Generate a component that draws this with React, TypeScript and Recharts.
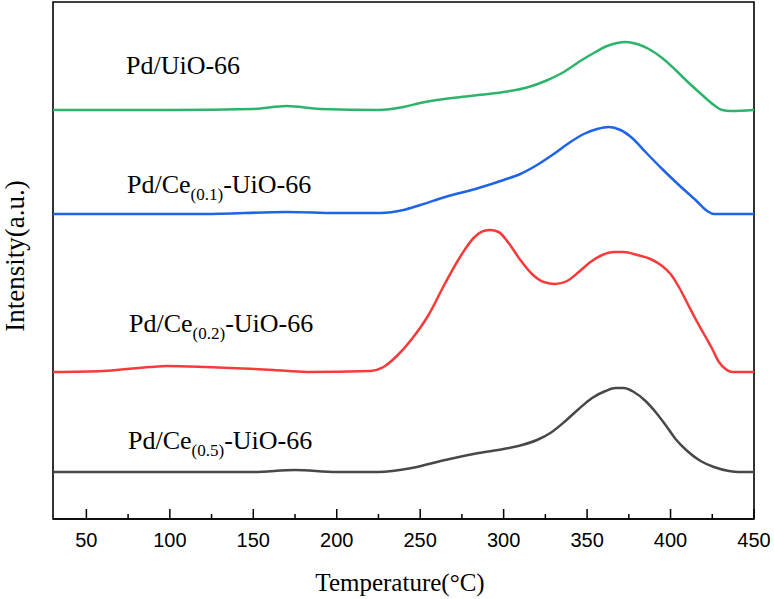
import { LineChart, Line, XAxis, YAxis, ReferenceArea } from 'recharts';

// temperature (°C) / intensity (a.u., offset stacked) per sample
const uioTemps = [30, 100, 150, 170, 190, 225, 240, 250, 260, 280, 300, 315, 325, 335, 345, 355, 362, 368, 373, 380, 387, 395, 403, 411, 419, 426, 431, 436, 450];
const uioValues = [409, 409, 410, 413, 410, 409, 412, 416, 419, 423, 427, 432, 438, 446, 457, 467, 473, 476, 477, 475, 470, 461, 449, 436, 424, 414, 409, 408, 409];

const ce01Temps = [30, 120, 170, 200, 226, 240, 250, 265, 285, 300, 310, 320, 330, 340, 348, 356, 363, 370, 377, 385, 395, 405, 415, 422, 426, 450];
const ce01Values = [305, 305, 307, 306, 306, 309, 314, 322, 331, 339, 345, 354, 365, 377, 385, 390, 392, 389, 381, 367, 350, 334, 319, 308, 305, 305];

const ce02Temps = [30, 60, 88, 98, 122, 162, 182, 220, 228, 236, 245, 255, 265, 275, 282, 288, 292, 297, 303, 310, 317, 324, 331, 338, 345, 352, 359, 366, 372, 380, 388, 395, 400, 405, 410, 415, 420, 425, 429, 433, 437, 450];
const ce02Values = [147, 148, 152, 153, 152, 149, 147, 148, 152, 163, 180, 204, 236, 265, 281, 288, 289, 287, 276, 259, 245, 237, 235, 238, 247, 257, 264, 267, 267, 264, 260, 253, 245, 232, 216, 200, 185, 170, 157, 150, 147, 147];

const ce05Temps = [30, 150, 175, 200, 225, 245, 265, 285, 300, 311, 320, 328, 337, 345, 353, 361, 367, 372, 378, 385, 391, 397, 403, 410, 418, 426, 435, 441, 450];
const ce05Values = [47, 47, 49, 47, 47, 51, 59, 66, 70, 74, 79, 86, 98, 110, 121, 128, 131, 131, 127, 118, 107, 94, 80, 68, 58, 52, 48, 47, 47];

const xTicks = [50, 75, 100, 125, 150, 175, 200, 225, 250, 275, 300, 325, 350, 375, 400, 425, 450];

const toRows = (temps: number[], values: number[]) => temps.map((t, i) => ({ t, v: values[i] }));

const series = [
  { name: 'Pd/UiO-66', color: '#2db46b', data: toRows(uioTemps, uioValues) },
  { name: 'Pd/Ce(0.1)-UiO-66', color: '#1e64e6', data: toRows(ce01Temps, ce01Values) },
  { name: 'Pd/Ce(0.2)-UiO-66', color: '#f73b3b', data: toRows(ce02Temps, ce02Values) },
  { name: 'Pd/Ce(0.5)-UiO-66', color: '#484848', data: toRows(ce05Temps, ce05Values) },
];

const serif = '"Liberation Serif", "Times New Roman", serif';

// inward ticks: major every 50 with a label, minor in between
function BottomTick(props: any) {
  const { x, y, payload } = props;
  const major = payload.value % 50 === 0;
  const base = y - 1;
  return (
    <g>
      <line x1={x} x2={x} y1={base} y2={base - (major ? 10 : 5)} stroke="#000" strokeWidth={1.5} />
      {major && (
        <text x={x} y={base + 28} textAnchor="middle" fontSize={20} fontFamily='"Liberation Sans", Arial, sans-serif' fill="#000">
          {payload.value}
        </text>
      )}
    </g>
  );
}

function SampleLabel({ x, y, sub }: { x: number; y: number; sub?: string }) {
  return (
    <text x={x} y={y} fontSize={26} fontFamily={serif} fill="#000">
      {sub ? (
        <>
          <tspan>Pd/Ce</tspan>
          <tspan fontSize={17} dy={7}>{sub}</tspan>
          <tspan dy={-7}>-UiO-66</tspan>
        </>
      ) : (
        'Pd/UiO-66'
      )}
    </text>
  );
}

export default function App() {
  return (
    <div style={{ position: 'absolute', left: 0, top: 0, background: '#fff' }}>
      <LineChart width={774} height={599} margin={{ top: 2, right: 20, bottom: 30, left: 53 }}>
        <XAxis
          dataKey="t"
          type="number"
          domain={[30, 450]}
          ticks={xTicks}
          interval={0}
          allowDataOverflow
          height={50}
          axisLine={{ stroke: '#000', strokeWidth: 1.5 }}
          tickLine={false}
          tickSize={1}
          tickMargin={0}
          tick={<BottomTick />}
        />
        <YAxis type="number" domain={[0, 517]} allowDataOverflow width={0} tick={false} tickLine={false} axisLine={false} />
        <ReferenceArea x1={30} x2={450} y1={0} y2={517} fill="none" stroke="#000" strokeWidth={1.6} ifOverflow="visible" />
        {series.map((s) => (
          <Line
            key={s.name}
            data={s.data}
            dataKey="v"
            type="monotone"
            stroke={s.color}
            strokeWidth={2.5}
            dot={false}
            isAnimationActive={false}
          />
        ))}
        <SampleLabel x={126} y={74} />
        <SampleLabel x={127} y={193} sub="(0.1)" />
        <SampleLabel x={129} y={332} sub="(0.2)" />
        <SampleLabel x={128} y={449} sub="(0.5)" />
        <text x={400} y={591} textAnchor="middle" fontSize={25} fontFamily={serif} fill="#000">
          Temperature(°C)
        </text>
        <text x={24} y={256} textAnchor="middle" fontSize={27} fontFamily={serif} fill="#000" transform="rotate(-90 24 256)">
          Intensity(a.u.)
        </text>
      </LineChart>
    </div>
  );
}
